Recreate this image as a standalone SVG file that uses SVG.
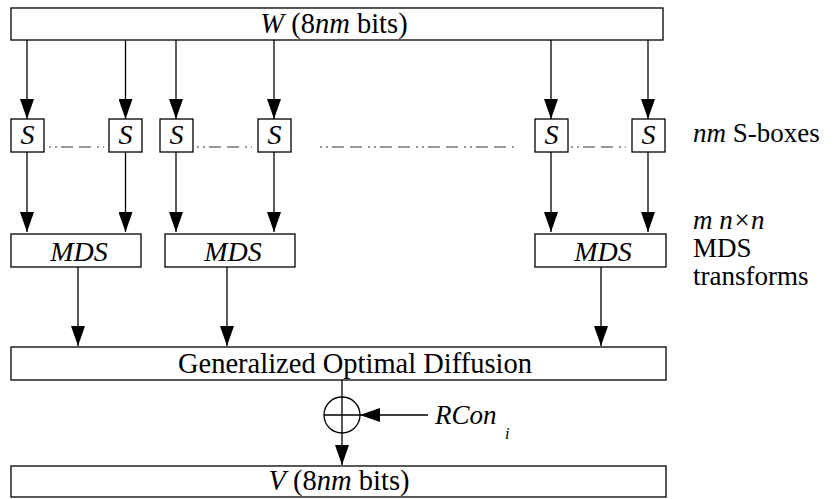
<svg xmlns="http://www.w3.org/2000/svg" width="834" height="499" viewBox="0 0 834 499" font-family="'Liberation Serif', 'Times New Roman', serif" font-size="27">
<style>
.box{fill:#fff;stroke:#000;stroke-width:1.3}
.t{font-family:'Liberation Serif','Times New Roman',serif;font-size:27px;fill:#000}
.big{font-size:28.5px}
.mid{font-size:28px}
.i{font-style:italic}
.c{text-anchor:middle}
.ln{stroke:#000;stroke-width:1.3;fill:none}
.dd{stroke:#777;stroke-width:1.3;fill:none;stroke-dasharray:2,4,2,4,12,6,12,6}
</style>
<defs>
<marker id="ah" markerUnits="userSpaceOnUse" markerWidth="20" markerHeight="14" refX="20" refY="7" orient="auto">
<path d="M0,0 L20,7 L0,14 z" fill="#000"/>
</marker>
</defs>
<g id="connectors">
<line class="ln" x1="27" y1="40" x2="27" y2="119" marker-end="url(#ah)"/>
<line class="ln" x1="125.5" y1="40" x2="125.5" y2="119" marker-end="url(#ah)"/>
<line class="ln" x1="176" y1="40" x2="176" y2="119" marker-end="url(#ah)"/>
<line class="ln" x1="274" y1="40" x2="274" y2="119" marker-end="url(#ah)"/>
<line class="ln" x1="551" y1="40" x2="551" y2="119" marker-end="url(#ah)"/>
<line class="ln" x1="648" y1="40" x2="648" y2="119" marker-end="url(#ah)"/>
<line class="ln" x1="27" y1="152" x2="27" y2="232" marker-end="url(#ah)"/>
<line class="ln" x1="125.5" y1="152" x2="125.5" y2="232" marker-end="url(#ah)"/>
<line class="ln" x1="176" y1="152" x2="176" y2="232" marker-end="url(#ah)"/>
<line class="ln" x1="274" y1="152" x2="274" y2="232" marker-end="url(#ah)"/>
<line class="ln" x1="551" y1="152" x2="551" y2="232" marker-end="url(#ah)"/>
<line class="ln" x1="648" y1="152" x2="648" y2="232" marker-end="url(#ah)"/>
<line class="ln" x1="78" y1="267" x2="78" y2="346" marker-end="url(#ah)"/>
<line class="ln" x1="227" y1="267" x2="227" y2="346" marker-end="url(#ah)"/>
<line class="ln" x1="601" y1="267" x2="601" y2="346" marker-end="url(#ah)"/>
<line class="ln" x1="342" y1="380" x2="342" y2="397"/>
<line class="ln" x1="342" y1="433" x2="342" y2="465" marker-end="url(#ah)"/>
<line class="ln" x1="428" y1="415" x2="360" y2="415" marker-end="url(#ah)"/>
<line class="dd" x1="49" y1="147" x2="104" y2="147"/>
<line class="dd" x1="197" y1="147" x2="252" y2="147"/>
<line class="dd" x1="320" y1="147" x2="516" y2="147"/>
<line class="dd" x1="571" y1="147" x2="626" y2="147"/>
</g>
<g id="W">
<rect class="box" x="11" y="8" width="652" height="32"/>
<text class="t big c" x="334" y="33"><tspan class="i">W</tspan> (8<tspan class="i">nm</tspan> bits)</text>
</g>
<g id="S1"><rect class="box" x="11" y="119" width="33" height="33"/><text class="t mid c i" x="27.5" y="144">S</text></g>
<g id="S2"><rect class="box" x="109" y="119" width="33" height="33"/><text class="t mid c i" x="125.5" y="144">S</text></g>
<g id="S3"><rect class="box" x="160" y="119" width="33" height="33"/><text class="t mid c i" x="176.5" y="144">S</text></g>
<g id="S4"><rect class="box" x="258" y="119" width="33" height="33"/><text class="t mid c i" x="274.5" y="144">S</text></g>
<g id="S5"><rect class="box" x="535" y="119" width="33" height="33"/><text class="t mid c i" x="551.5" y="144">S</text></g>
<g id="S6"><rect class="box" x="632" y="119" width="33" height="33"/><text class="t mid c i" x="648.5" y="144">S</text></g>
<g id="sboxes-label"><text class="t" x="693" y="142"><tspan class="i">nm</tspan> S-boxes</text></g>
<g id="MDS1"><rect class="box" x="11" y="234" width="130" height="33"/><text class="t mid c i" x="79" y="261">MDS</text></g>
<g id="MDS2"><rect class="box" x="165" y="234" width="130" height="33"/><text class="t mid c i" x="233" y="261">MDS</text></g>
<g id="MDS3"><rect class="box" x="535" y="234" width="131" height="33"/><text class="t mid c i" x="603" y="261">MDS</text></g>
<g id="mds-label">
<text class="t i" x="693" y="229">m n×n</text>
<text class="t" x="693" y="257">MDS</text>
<text class="t" x="693" y="285">transforms</text>
</g>
<g id="GOD">
<rect class="box" x="11" y="347" width="655" height="33"/>
<text class="t big c" x="355" y="373">Generalized Optimal Diffusion</text>
</g>
<g id="xor">
<circle cx="342" cy="415" r="18" fill="#fff" stroke="#000" stroke-width="1.3"/>
<line class="ln" x1="342" y1="397" x2="342" y2="433"/>
<line class="ln" x1="324" y1="415" x2="360" y2="415"/>
</g>
<g id="RCon">
<text class="t i" x="435" y="424">RCon</text>
<text class="t i" x="505" y="439" style="font-size:16px">i</text>
</g>
<g id="V">
<rect class="box" x="11" y="466" width="655" height="31"/>
<text class="t big c" x="339" y="490"><tspan class="i">V</tspan> (8<tspan class="i">nm</tspan> bits)</text>
</g>
</svg>
